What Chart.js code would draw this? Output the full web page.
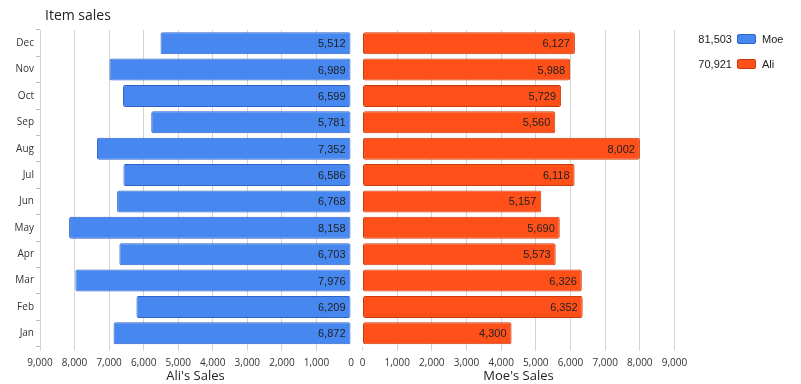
<!DOCTYPE html>
<html>
<head>
<meta charset="utf-8">
<script src="https://cdn.jsdelivr.net/npm/chart.js@4"></script>
<style>
  html, body { margin: 0; padding: 0; background: #fff; }
  #wrap { position: relative; width: 801px; height: 384px; overflow: hidden; }
  #c1 { position: absolute; left: 0; top: 0; }
  #c2 { position: absolute; left: 356px; top: 0; }
  #title { position: absolute; left: 45px; top: 7px; font: 14px "Open Sans", sans-serif; line-height: 16px; color: #222; }
  .lg { position: absolute; left: 690px; width: 110px; height: 14px; font: 11px "Liberation Sans", Arial, sans-serif; color: #222; line-height: 14px; }
  .lg .num { position: absolute; right: 68px; top: 0; text-align: right; }
  .lg .box { position: absolute; left: 47px; top: 2px; width: 19px; height: 10px; border-radius: 2px; box-sizing: border-box; border: 1px solid; }
  .lg .nm { position: absolute; left: 72px; top: 0; }
</style>
</head>
<body>
<div id="wrap">
  <canvas id="c1" width="357" height="384"></canvas>
  <canvas id="c2" width="445" height="384"></canvas>
  <div id="title">Item sales</div>
  <div class="lg" id="lg1" style="top:32px"><span class="num"></span><span class="box" style="background:#4687f0;border-color:#2f62c8"></span><span class="nm"></span></div>
  <div class="lg" id="lg2" style="top:57px"><span class="num"></span><span class="box" style="background:#ff5019;border-color:#c93a0c"></span><span class="nm"></span></div>
</div>
<script>
const months = ["Jan","Feb","Mar","Apr","May","Jun","Jul","Aug","Sep","Oct","Nov","Dec"];
const aliSales = [6872, 6209, 7976, 6703, 8158, 6768, 6586, 7352, 5781, 6599, 6989, 5512];
const moeSales = [4300, 6352, 6326, 5573, 5690, 5157, 6118, 8002, 5560, 5729, 5988, 6127];
const xTicks = [0, 1000, 2000, 3000, 4000, 5000, 6000, 7000, 8000, 9000];
const legendNames = ["Moe", "Ali"];
const legendTotals = ["81,503", "70,921"];

document.querySelector('#lg1 .num').textContent = legendTotals[0];
document.querySelector('#lg1 .nm').textContent = legendNames[0];
document.querySelector('#lg2 .num').textContent = legendTotals[1];
document.querySelector('#lg2 .nm').textContent = legendNames[1];

const fmt = v => Number(v).toLocaleString('en-US');

const labelPlugin = {
  id: 'barLabels',
  afterDatasetsDraw(chart) {
    const ctx = chart.ctx;
    ctx.save();
    ctx.font = '11px "Liberation Sans", Arial, sans-serif';
    ctx.fillStyle = '#222';
    ctx.textAlign = 'right';
    ctx.textBaseline = 'middle';
    chart.data.datasets.forEach((ds, di) => {
      chart.getDatasetMeta(di).data.forEach((el, i) => {
        const end = Math.max(el.x, el.base);
        ctx.fillText(fmt(ds.data[i]), end - 5, el.y + 1);
      });
    });
    ctx.restore();
  }
};

function makeChart(id, data, fill, border, title, left) {
  return new Chart(document.getElementById(id), {
    type: 'bar',
    data: {
      labels: months,
      datasets: [{
        data: data,
        backgroundColor: fill,
        borderColor: border,
        borderWidth: 1,
        borderRadius: 2,
        borderSkipped: false,
        barPercentage: 0.835,
        categoryPercentage: 1
      }]
    },
    options: {
      indexAxis: 'y',
      responsive: false,
      animation: false,
      events: [],
      layout: { padding: left ? { top: 30, right: 6, bottom: 0, left: 0 } : { top: 30, right: 126.5, bottom: 0, left: 6.5 } },
      plugins: { legend: { display: false }, tooltip: { enabled: false } },
      scales: {
        x: {
          type: 'linear',
          min: 0, max: 9000,
          reverse: left,
          afterBuildTicks: s => { s.ticks = xTicks.map(v => ({ value: v })); },
          afterFit: s => { s.height = 37.5; s.paddingLeft = 0; s.paddingRight = 0; },
          ticks: {
            callback: v => fmt(v),
            font: { family: '"Open Sans", sans-serif', size: 10 },
            color: '#333',
            padding: 6.5,
            maxRotation: 0,
            autoSkip: false
          },
          grid: {
            color: c => (c.tick && c.tick.value === 0) ? 'rgba(0,0,0,0)' : '#d4d4d4',
            tickColor: c => (c.tick && c.tick.value === 0 && left) ? 'rgba(0,0,0,0)' : '#d4d4d4',
            tickLength: 4,
            lineWidth: 1
          },
          border: { display: false },
          title: {
            display: true,
            text: title,
            font: { family: '"Open Sans", sans-serif', size: 13 },
            color: '#222',
            padding: { top: 1, bottom: 0 }
          }
        },
        y: {
          type: 'category',
          reverse: true,
          display: left,
          afterFit: s => { if (left) s.width = 40; },
          ticks: {
            font: { family: '"Open Sans", sans-serif', size: 10 },
            color: '#333',
            padding: 2
          },
          grid: {
            drawOnChartArea: false,
            drawTicks: true,
            tickLength: 4,
            tickColor: '#bbb'
          },
          border: { display: true, color: '#d4d4d4' }
        }
      }
    },
    plugins: [labelPlugin]
  });
}

makeChart('c1', aliSales, '#4687f0', '#2f62c8', "Ali's Sales", true);
makeChart('c2', moeSales, '#ff5019', '#c93a0c', "Moe's Sales", false);
</script>
</body>
</html>
